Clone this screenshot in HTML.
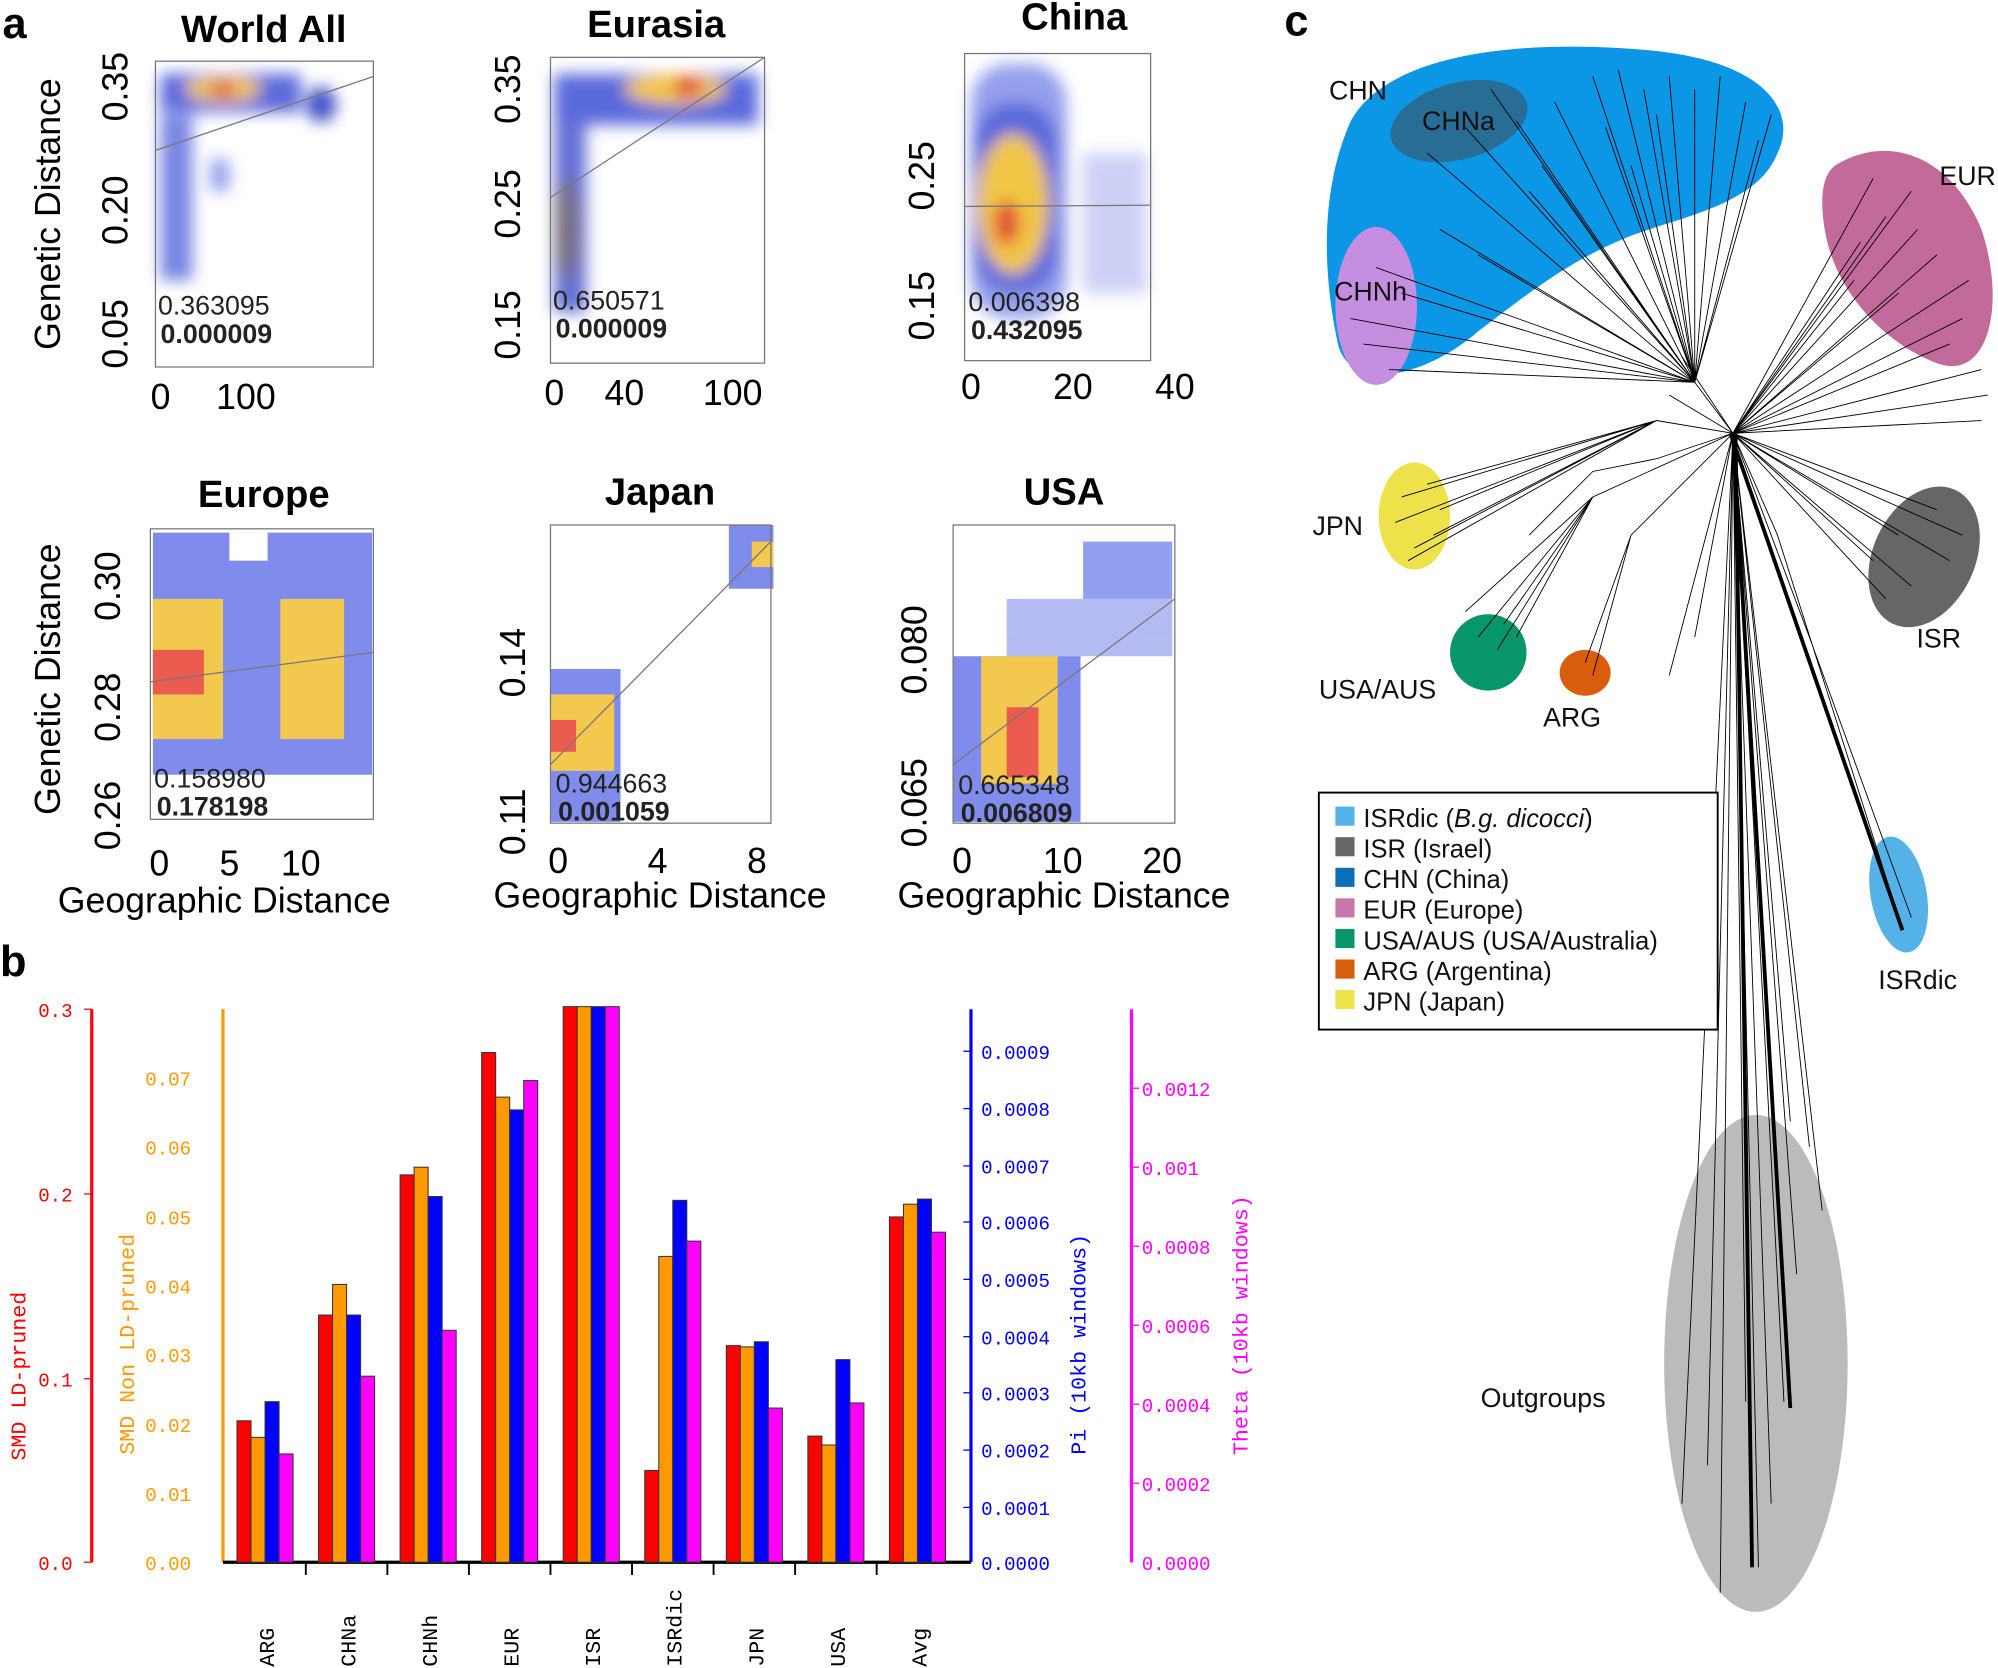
<!DOCTYPE html>
<html><head><meta charset="utf-8"><style>
html,body{margin:0;padding:0;background:#fff;}
svg{display:block;}
.t{font-family:"Liberation Sans",sans-serif;}
.m{font-family:"Liberation Mono","DejaVu Sans Mono",monospace;}
</style></head><body>
<svg width="1998" height="1668" viewBox="0 0 1568 1309" xmlns="http://www.w3.org/2000/svg">
<defs>
<filter id="b1" x="-50%" y="-50%" width="200%" height="200%"><feGaussianBlur stdDeviation="6"/></filter>
</defs>
<rect width="1568" height="1309" fill="#fff"/>
<g class="t" font-weight="bold" font-size="34"><text x="2" y="30">a</text><text x="0" y="766">b</text><text x="1008" y="28">c</text></g>

<!-- heatmap blobs -->
<g filter="url(#b1)" opacity="0.9">
 <rect x="126" y="58" width="110" height="30" fill="#4a5ad8"/>
 <rect x="126" y="90" width="25" height="130" fill="#6a78e0"/>
 <rect x="165" y="125" width="15" height="25" fill="#8a95ea"/>
 <ellipse cx="175" cy="70" rx="30" ry="10" fill="#f0c030"/>
 <ellipse cx="175" cy="70" rx="10" ry="6" fill="#e03020"/>
 <ellipse cx="252" cy="82" rx="12" ry="14" fill="#3040c0"/>
 <rect x="435" y="58" width="160" height="40" fill="#4a5ad8"/>
 <rect x="435" y="95" width="25" height="150" fill="#5560d0"/>
 <ellipse cx="445" cy="180" rx="10" ry="40" fill="#6a6070"/>
 <ellipse cx="530" cy="70" rx="40" ry="12" fill="#f0c030"/>
 <ellipse cx="540" cy="68" rx="12" ry="8" fill="#e03020"/>
 <rect x="762" y="50" width="75" height="200" rx="30" fill="#8a95ea"/>
 <rect x="765" y="80" width="65" height="150" rx="30" fill="#4a5ad8"/>
 <ellipse cx="795" cy="160" rx="28" ry="55" fill="#f0c030"/>
 <ellipse cx="790" cy="175" rx="10" ry="18" fill="#e03020"/>
 <rect x="850" y="120" width="50" height="110" fill="#c8ccf4"/>
</g>
<g opacity="0.85">
 <rect x="120" y="418" width="172" height="190" fill="#6a78e8"/>
 <rect x="120" y="470" width="55" height="110" fill="#f0c030"/>
 <rect x="220" y="470" width="50" height="110" fill="#f0c030"/>
 <rect x="120" y="510" width="40" height="35" fill="#e84030"/>
 <rect x="180" y="418" width="30" height="22" fill="#fff"/>
 <rect x="572" y="412" width="35" height="50" fill="#6a78e8"/>
 <rect x="590" y="425" width="17" height="20" fill="#f0c030"/>
 <rect x="432" y="525" width="55" height="120" fill="#6a78e8"/>
 <rect x="432" y="545" width="50" height="60" fill="#f0c030"/>
 <rect x="432" y="565" width="20" height="25" fill="#e84030"/>
 <rect x="790" y="470" width="130" height="45" fill="#a8b0f0"/>
 <rect x="850" y="425" width="70" height="45" fill="#8090f0"/>
 <rect x="748" y="515" width="100" height="130" fill="#6a78e8"/>
 <rect x="770" y="515" width="60" height="100" fill="#f0c030"/>
 <rect x="790" y="555" width="25" height="55" fill="#e84030"/>
</g>
<g fill="none" stroke="#777" stroke-width="1">
 <rect x="122" y="48" width="171" height="240"/><rect x="432" y="45" width="168" height="240"/><rect x="757" y="42" width="146" height="241"/>
 <rect x="118" y="415" width="175" height="228"/><rect x="432" y="412" width="173" height="234"/><rect x="748" y="412" width="174" height="234"/>
 <line x1="122" y1="118" x2="293" y2="60"/><line x1="432" y1="155" x2="600" y2="45"/><line x1="757" y1="162" x2="903" y2="161"/>
 <line x1="118" y1="535" x2="293" y2="512"/><line x1="432" y1="600" x2="605" y2="425"/><line x1="748" y1="600" x2="922" y2="470"/>
</g>
<g class="t" font-weight="bold" font-size="30" text-anchor="middle">
 <text x="207" y="33">World All</text><text x="515" y="29">Eurasia</text><text x="843" y="23">China</text>
 <text x="207" y="398">Europe</text><text x="518" y="396">Japan</text><text x="835" y="396">USA</text>
</g>
<g class="t" font-size="28" text-anchor="middle">
 <text transform="translate(47,168) rotate(-90)">Genetic Distance</text>
 <text transform="translate(47,533) rotate(-90)">Genetic Distance</text>
 <text x="176" y="716">Geographic Distance</text><text x="518" y="712">Geographic Distance</text><text x="835" y="712">Geographic Distance</text>
 <text x="126" y="321">0</text><text x="193" y="321">100</text>
 <text x="435" y="318">0</text><text x="490" y="318">40</text><text x="575" y="318">100</text>
 <text x="762" y="313">0</text><text x="842" y="313">20</text><text x="922" y="313">40</text>
 <text x="125" y="687">0</text><text x="180" y="687">5</text><text x="236" y="687">10</text>
 <text x="438" y="685">0</text><text x="516" y="685">4</text><text x="594" y="685">8</text>
 <text x="755" y="685">0</text><text x="834" y="685">10</text><text x="912" y="685">20</text>
 <text transform="translate(100,68) rotate(-90)">0.35</text><text transform="translate(100,165) rotate(-90)">0.20</text><text transform="translate(100,262) rotate(-90)">0.05</text>
 <text transform="translate(408,70) rotate(-90)">0.35</text><text transform="translate(408,160) rotate(-90)">0.25</text><text transform="translate(408,255) rotate(-90)">0.15</text>
 <text transform="translate(733,138) rotate(-90)">0.25</text><text transform="translate(733,240) rotate(-90)">0.15</text>
 <text transform="translate(94,460) rotate(-90)">0.30</text><text transform="translate(94,555) rotate(-90)">0.28</text><text transform="translate(94,640) rotate(-90)">0.26</text>
 <text transform="translate(412,520) rotate(-90)">0.14</text><text transform="translate(412,645) rotate(-90)">0.11</text>
 <text transform="translate(727,510) rotate(-90)">0.080</text><text transform="translate(727,630) rotate(-90)">0.065</text>
</g>
<g class="t" font-size="21" fill="#222">
 <text x="124" y="247">0.363095</text><text x="126" y="269" font-weight="bold">0.000009</text>
 <text x="434" y="243">0.650571</text><text x="436" y="265" font-weight="bold">0.000009</text>
 <text x="760" y="244">0.006398</text><text x="762" y="266" font-weight="bold">0.432095</text>
 <text x="121" y="618">0.158980</text><text x="123" y="640" font-weight="bold">0.178198</text>
 <text x="436" y="622">0.944663</text><text x="438" y="644" font-weight="bold">0.001059</text>
 <text x="752" y="623">0.665348</text><text x="754" y="645" font-weight="bold">0.006809</text>
</g>

<!-- panel b -->
<g stroke-width="2.5">
 <line x1="72" y1="792" x2="72" y2="1226" stroke="#f00"/>
 <line x1="175" y1="792" x2="175" y2="1226" stroke="#f90"/>
 <line x1="762" y1="792" x2="762" y2="1226" stroke="#00f"/>
 <line x1="888" y1="792" x2="888" y2="1226" stroke="#f0f"/>
 <line x1="175" y1="1226" x2="762" y2="1226" stroke="#000"/>
</g>
<g stroke="#000" stroke-width="1.5">
 <line x1="240" y1="1226" x2="240" y2="1236"/><line x1="304" y1="1226" x2="304" y2="1236"/><line x1="368" y1="1226" x2="368" y2="1236"/><line x1="432" y1="1226" x2="432" y2="1236"/><line x1="496" y1="1226" x2="496" y2="1236"/><line x1="560" y1="1226" x2="560" y2="1236"/><line x1="624" y1="1226" x2="624" y2="1236"/><line x1="688" y1="1226" x2="688" y2="1236"/>
</g>
<g class="m" font-size="15">
<g fill="#f00" stroke="#f00">
 <line x1="66" y1="792" x2="72" y2="792"/><line x1="66" y1="937" x2="72" y2="937"/><line x1="66" y1="1082" x2="72" y2="1082"/><line x1="66" y1="1226" x2="72" y2="1226"/>
 <g stroke="none"><text x="30" y="798">0.3</text><text x="30" y="943">0.2</text><text x="30" y="1088">0.1</text><text x="30" y="1232">0.0</text>
 <text transform="translate(20,1080) rotate(-90)" text-anchor="middle" font-size="17">SMD LD-pruned</text></g>
</g>
<g fill="#f90" stroke="none">
 <text x="114" y="852">0.07</text><text x="114" y="906">0.06</text><text x="114" y="961">0.05</text><text x="114" y="1015">0.04</text><text x="114" y="1069">0.03</text><text x="114" y="1124">0.02</text><text x="114" y="1178">0.01</text><text x="114" y="1232">0.00</text>
 <text transform="translate(105,1055) rotate(-90)" text-anchor="middle" font-size="17">SMD Non LD-pruned</text>
</g>
<g fill="#00f">
 <text x="770" y="831">0.0009</text><text x="770" y="876">0.0008</text><text x="770" y="921">0.0007</text><text x="770" y="965">0.0006</text><text x="770" y="1010">0.0005</text><text x="770" y="1055">0.0004</text><text x="770" y="1099">0.0003</text><text x="770" y="1144">0.0002</text><text x="770" y="1189">0.0001</text><text x="770" y="1232">0.0000</text>
 <text transform="translate(852,1055) rotate(-90)" text-anchor="middle" font-size="17">Pi (10kb windows)</text>
</g>
<g fill="#f0f">
 <text x="896" y="860">0.0012</text><text x="896" y="922">0.001</text><text x="896" y="984">0.0008</text><text x="896" y="1046">0.0006</text><text x="896" y="1108">0.0004</text><text x="896" y="1170">0.0002</text><text x="896" y="1232">0.0000</text>
 <text transform="translate(979,1040) rotate(-90)" text-anchor="middle" font-size="17">Theta (10kb windows)</text>
</g>
<g fill="#000" font-size="17">
 <text transform="translate(215,1308) rotate(-90)">ARG</text><text transform="translate(279,1308) rotate(-90)">CHNa</text><text transform="translate(343,1308) rotate(-90)">CHNh</text><text transform="translate(407,1308) rotate(-90)">EUR</text><text transform="translate(471,1308) rotate(-90)">ISR</text><text transform="translate(535,1308) rotate(-90)">ISRdic</text><text transform="translate(599,1308) rotate(-90)">JPN</text><text transform="translate(663,1308) rotate(-90)">USA</text><text transform="translate(727,1308) rotate(-90)">Avg</text>
</g>
<g stroke="#00f"><line x1="756" y1="825" x2="762" y2="825"/><line x1="756" y1="870" x2="762" y2="870"/><line x1="756" y1="915" x2="762" y2="915"/><line x1="756" y1="959" x2="762" y2="959"/><line x1="756" y1="1004" x2="762" y2="1004"/><line x1="756" y1="1049" x2="762" y2="1049"/><line x1="756" y1="1093" x2="762" y2="1093"/><line x1="756" y1="1138" x2="762" y2="1138"/><line x1="756" y1="1183" x2="762" y2="1183"/></g>
<g stroke="#f0f"><line x1="888" y1="854" x2="894" y2="854"/><line x1="888" y1="916" x2="894" y2="916"/><line x1="888" y1="978" x2="894" y2="978"/><line x1="888" y1="1040" x2="894" y2="1040"/><line x1="888" y1="1102" x2="894" y2="1102"/><line x1="888" y1="1164" x2="894" y2="1164"/></g>
</g>
<g stroke="#333" stroke-width="0.8">
 <g fill="#f00"><rect x="186" y="1115" width="11" height="111"/><rect x="250" y="1032" width="11" height="194"/><rect x="314" y="922" width="11" height="304"/><rect x="378" y="826" width="11" height="400"/><rect x="442" y="790" width="11" height="436"/><rect x="506" y="1154" width="11" height="72"/><rect x="570" y="1056" width="11" height="170"/><rect x="634" y="1127" width="11" height="99"/><rect x="698" y="955" width="11" height="271"/></g>
 <g fill="#f90"><rect x="197" y="1128" width="11" height="98"/><rect x="261" y="1008" width="11" height="218"/><rect x="325" y="916" width="11" height="310"/><rect x="389" y="861" width="11" height="365"/><rect x="453" y="790" width="11" height="436"/><rect x="517" y="986" width="11" height="240"/><rect x="581" y="1057" width="11" height="169"/><rect x="645" y="1134" width="11" height="92"/><rect x="709" y="945" width="11" height="281"/></g>
 <g fill="#00f"><rect x="208" y="1100" width="11" height="126"/><rect x="272" y="1032" width="11" height="194"/><rect x="336" y="939" width="11" height="287"/><rect x="400" y="871" width="11" height="355"/><rect x="464" y="790" width="11" height="436"/><rect x="528" y="942" width="11" height="284"/><rect x="592" y="1053" width="11" height="173"/><rect x="656" y="1067" width="11" height="159"/><rect x="720" y="941" width="11" height="285"/></g>
 <g fill="#f0f"><rect x="219" y="1141" width="11" height="85"/><rect x="283" y="1080" width="11" height="146"/><rect x="347" y="1044" width="11" height="182"/><rect x="411" y="848" width="11" height="378"/><rect x="475" y="790" width="11" height="436"/><rect x="539" y="974" width="11" height="252"/><rect x="603" y="1105" width="11" height="121"/><rect x="667" y="1101" width="11" height="125"/><rect x="731" y="967" width="11" height="259"/></g>
</g>

<!-- panel c -->
<path d="M1060,95 C1090,40 1200,30 1300,40 C1390,50 1410,90 1395,120 C1380,160 1320,170 1280,185 C1230,205 1200,230 1160,260 C1120,295 1060,310 1050,270 C1035,200 1040,140 1060,95Z" fill="#0b96e6"/>
<ellipse cx="1145" cy="95" rx="55" ry="30" fill="#444" opacity="0.5" transform="rotate(-15 1145 95)"/>
<ellipse cx="1080" cy="240" rx="32" ry="62" fill="#c68ee0"/>
<path d="M1440,130 C1480,105 1530,120 1555,180 C1575,240 1560,300 1520,285 C1480,270 1440,230 1432,180 C1428,155 1430,138 1440,130Z" fill="#c26a9a"/>
<ellipse cx="1110" cy="405" rx="28" ry="42" fill="#ede24a"/>
<ellipse cx="1168" cy="512" rx="30" ry="30" fill="#07956a"/>
<ellipse cx="1244" cy="528" rx="20" ry="18" fill="#d85e0e"/>
<ellipse cx="1510" cy="437" rx="40" ry="58" fill="#666" transform="rotate(25 1510 437)"/>
<ellipse cx="1490" cy="702" rx="22" ry="46" fill="#54b2e8" transform="rotate(-10 1490 702)"/>
<ellipse cx="1378" cy="1070" rx="72" ry="195" fill="#bbb"/>
<g stroke="#000" stroke-width="0.7" fill="none">
 <path d="M1330,300 L1150,100 M1330,300 L1250,60 M1330,300 L1350,60 M1330,300 L1200,150 M1330,300 L1100,230 M1330,300 L1060,250 M1330,300 L1390,90 M1330,300 L1170,70 M1330,300 L1190,95 M1330,300 L1220,80 M1330,300 L1270,55 M1330,300 L1290,70 M1330,300 L1310,60 M1330,300 L1330,70 M1330,300 L1370,80 M1330,300 L1380,110 M1330,300 L1240,120 M1330,300 L1210,130 M1330,300 L1080,210 M1330,300 L1070,270 M1330,300 L1090,290 M1330,300 L1130,180 M1330,300 L1160,200 M1330,300 L1260,100 M1330,300 L1280,130 M1330,300 L1120,120 M1330,300 L1300,90 M1330,300 L1360,340 M1310,310 L1360,340 M1320,280 L1360,340"/>
 <path d="M1360,340 L1500,150 M1360,340 L1540,250 M1360,340 L1460,190 M1360,340 L1470,140 M1360,340 L1480,170 M1360,340 L1520,200 M1360,340 L1545,220 M1360,340 L1530,270 M1360,340 L1490,230 M1360,340 L1455,220 M1360,340 L1505,180 M1360,340 L1555,290 M1360,340 L1555,330 M1360,340 L1560,310 M1360,340 L1540,420 M1360,340 L1480,470 M1360,340 L1520,400 M1360,340 L1500,460 M1360,340 L1530,440 M1360,340 L1490,420 M1360,340 L1470,440"/>
 <path d="M1360,340 L1300,330 L1130,400 M1300,330 L1110,430 M1300,330 L1100,390 M1300,330 L1120,380 M1300,330 L1095,410 M1300,330 L1125,420 M1300,330 L1105,440 M1360,340 L1250,390 L1180,490 M1250,390 L1160,500 M1250,390 L1150,480 M1250,390 L1175,510 M1250,390 L1190,500 M1360,340 L1280,420 L1244,520 M1280,420 L1250,530 M1360,340 L1310,530 M1360,340 L1330,500 M1360,340 L1300,360 L1250,370 L1200,420"/>
 <path d="M1360,340 L1400,1100 M1360,340 L1380,1230 M1360,340 L1350,1250 M1360,340 L1420,900 M1360,340 L1320,1180 M1360,340 L1395,420 L1490,720 M1360,340 L1420,500 L1500,720 M1360,340 L1410,1000 M1360,340 L1340,1150 M1360,340 L1390,1180 M1360,340 L1405,880 M1360,340 L1370,1100 M1360,340 L1430,950"/>
 <path d="M1360,340 L1405,1105 M1362,340 L1375,1230 M1358,340 L1493,730" stroke-width="3"/>
</g>
<g class="t" font-size="21" fill="#111">
 <text x="1043" y="78">CHN</text><text x="1116" y="102">CHNa</text><text x="1047" y="236">CHNh</text><text x="1522" y="145">EUR</text>
 <text x="1030" y="420">JPN</text><text x="1035" y="548">USA/AUS</text><text x="1211" y="570">ARG</text><text x="1504" y="508">ISR</text>
 <text x="1474" y="776">ISRdic</text><text x="1162" y="1104">Outgroups</text>
</g>
<rect x="1035" y="622" width="313" height="186" fill="#fff" stroke="#000" stroke-width="1.5"/>
<g class="t" font-size="20" fill="#111">
 <rect x="1048" y="633" width="15" height="15" fill="#54b2e8"/><text x="1070" y="649">ISRdic (<tspan font-style="italic">B.g. dicocci</tspan>)</text>
 <rect x="1048" y="657" width="15" height="15" fill="#666"/><text x="1070" y="673">ISR (Israel)</text>
 <rect x="1048" y="681" width="15" height="15" fill="#0b6fb8"/><text x="1070" y="697">CHN (China)</text>
 <rect x="1048" y="705" width="15" height="15" fill="#c878a8"/><text x="1070" y="721">EUR (Europe)</text>
 <rect x="1048" y="729" width="15" height="15" fill="#07956a"/><text x="1070" y="745">USA/AUS (USA/Australia)</text>
 <rect x="1048" y="753" width="15" height="15" fill="#d85e0e"/><text x="1070" y="769">ARG (Argentina)</text>
 <rect x="1048" y="777" width="15" height="15" fill="#ede24a"/><text x="1070" y="793">JPN (Japan)</text>
</g>
</svg>
</body></html>
